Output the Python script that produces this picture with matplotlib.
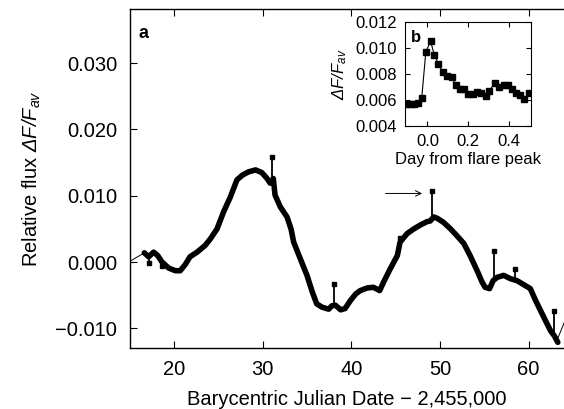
import matplotlib
matplotlib.use("Agg")
import matplotlib.pyplot as plt

plt.rcParams['font.family'] = ['Liberation Sans', 'DejaVu Sans']
plt.rcParams['mathtext.fontset'] = 'custom'
plt.rcParams['mathtext.rm'] = 'Liberation Sans'
plt.rcParams['mathtext.it'] = 'Liberation Sans:italic'
plt.rcParams['mathtext.sf'] = 'Liberation Sans:italic'

# light curve (day - 2,455,000, relative flux)
day = [16.65, 17.13, 17.7, 18.15, 18.65, 19.4, 20.15, 20.7, 21.3, 21.8,
       22.6, 23.5, 24.1, 24.85, 25.6, 26.35, 27.1, 27.7, 28.4, 29.2,
       29.9, 30.5, 30.85, 31.2, 31.4, 32.0, 32.75, 33.2, 33.5, 34.25,
       35.0, 35.6, 36.1, 36.7, 37.45, 37.8, 38.2, 38.8, 39.3, 39.9,
       40.5, 41.0, 41.8, 42.5, 43.2, 43.65, 44.4, 45.2, 45.5, 46.3,
       47.05, 47.8, 48.55, 48.9, 49.3, 49.7, 50.4, 51.2, 51.9, 52.7,
       53.4, 54.2, 54.75, 55.1, 55.6, 56.0, 56.45, 57.2, 57.95, 58.7,
       59.45, 60.2, 60.8, 61.35, 61.9, 62.5, 62.9, 63.3]
flux = [0.0014, 0.0008, 0.0015, 0.0010, 0.0000, -0.0009, -0.0013, -0.0013, -0.0003, 0.0008,
        0.0015, 0.0025, 0.0035, 0.0050, 0.0076, 0.0098, 0.0124, 0.0131, 0.0136, 0.0139,
        0.0135, 0.0126, 0.0119, 0.0126, 0.0101, 0.0083, 0.0068, 0.0050, 0.0030, 0.0005,
        -0.0020, -0.0045, -0.0063, -0.0068, -0.0071, -0.0066, -0.0065, -0.0072, -0.0070, -0.0058,
        -0.0048, -0.0043, -0.0039, -0.0038, -0.0043, -0.0030, -0.0010, 0.0010, 0.0030, 0.0043,
        0.0050, 0.0056, 0.0061, 0.0062, 0.0068, 0.0066, 0.0060, 0.0050, 0.0040, 0.0028,
        0.0010, -0.0013, -0.0030, -0.0038, -0.0040, -0.0028, -0.0023, -0.0020, -0.0025, -0.0028,
        -0.0034, -0.0040, -0.0058, -0.0073, -0.0088, -0.0104, -0.0111, -0.0121]

# flares: day, flux at base, flux at peak
flare_day = [17.2, 18.6, 31.1, 38.0, 45.5, 49.07, 56.15, 58.5, 62.9]
flare_base = [0.0008, -0.0001, 0.0120, -0.0066, 0.0025, 0.0063, -0.0030, -0.0024, -0.0108]
flare_peak = [-0.0001, -0.0006, 0.0159, -0.0033, 0.0036, 0.0107, 0.0016, -0.0011, -0.0073]

# thin model curve where no data
model_day_l = [15.0, 16.65]
model_flux_l = [0.0001, 0.0014]
model_day_r = [63.3, 64.0]
model_flux_r = [-0.0115, -0.0092]

# inset: days from flare peak
inset_day = [-0.103, -0.084, -0.064, -0.044, -0.028, -0.008, 0.015, 0.034, 0.054, 0.074,
             0.097, 0.118, 0.139, 0.159, 0.180, 0.200, 0.221, 0.241, 0.262, 0.284,
             0.303, 0.328, 0.349, 0.372, 0.393, 0.415, 0.434, 0.454, 0.474, 0.497]
inset_flux = [0.00568, 0.00568, 0.00568, 0.00575, 0.00612, 0.00968, 0.01053, 0.00945, 0.00878, 0.00813,
              0.00782, 0.00772, 0.00710, 0.00684, 0.00679, 0.00643, 0.00643, 0.00661, 0.00650, 0.00625,
              0.00666, 0.00730, 0.00699, 0.00712, 0.00715, 0.00684, 0.00653, 0.00635, 0.00607, 0.00648]

fig = plt.figure(figsize=(5.64, 4.09), dpi=100)
ax = fig.add_axes([0.230, 0.150, 0.770, 0.827])

ax.plot(day, flux, color='black', lw=4, solid_capstyle='round', solid_joinstyle='round')
ax.vlines(flare_day, flare_base, flare_peak, color='black', lw=1.3)
ax.plot(flare_day, flare_peak, 's', color='black', ms=2.2)
ax.plot(model_day_l, model_flux_l, color='black', lw=0.7)
ax.plot(model_day_r, model_flux_r, color='black', lw=0.7)

ax.annotate('', xy=(48.3, 0.01035), xytext=(43.55, 0.01035),
            arrowprops=dict(arrowstyle='->', color='black', lw=0.7))

ax.set_xlim(15, 64)
ax.set_ylim(-0.0129, 0.0381)
ax.set_xticks([20, 30, 40, 50, 60])
ax.set_yticks([-0.010, 0.0, 0.010, 0.020, 0.030])
ax.set_yticklabels(['\u22120.010', '0.000', '0.010', '0.020', '0.030'])
ax.tick_params(direction='in', top=True, right=False, length=5, width=0.8,
               labelsize=14.5, pad=9)
ax.spines['right'].set_visible(False)
for s in ax.spines.values():
    s.set_linewidth(1.0)
ax.set_xlabel('Barycentric Julian Date \u2212 2,455,000', fontsize=14.5, labelpad=8)
ax.set_ylabel(r'Relative flux $\mathsf{\Delta F/F_{av}}$', fontsize=14.5, labelpad=9)
ax.text(0.020, 0.955, 'a', transform=ax.transAxes, fontsize=13, fontweight='bold',
        va='top', ha='left')

# inset
ins = fig.add_axes([0.718, 0.693, 0.223, 0.253])
ins.plot(inset_day, inset_flux, color='black', lw=0.8, marker='s', ms=4.2)
ins.set_xlim(-0.11, 0.505)
ins.set_ylim(0.004, 0.012)
ins.set_xticks([0.0, 0.2, 0.4])
ins.set_yticks([0.004, 0.006, 0.008, 0.010, 0.012])
ins.set_yticklabels(['0.004', '0.006', '0.008', '0.010', '0.012'])
ins.set_xticklabels(['0.0', '0.2', '0.4'])
ins.tick_params(direction='in', top=True, right=True, length=3.5, width=0.8,
                labelsize=12, pad=6)
ins.set_xlabel('Day from flare peak', fontsize=12, labelpad=2)
ins.set_ylabel(r'$\mathsf{\Delta F/F_{av}}$', fontsize=12, labelpad=4)
ins.text(0.05, 0.92, 'b', transform=ins.transAxes, fontsize=12, fontweight='bold',
         va='top', ha='left')

fig.savefig('out.png', dpi=100)
